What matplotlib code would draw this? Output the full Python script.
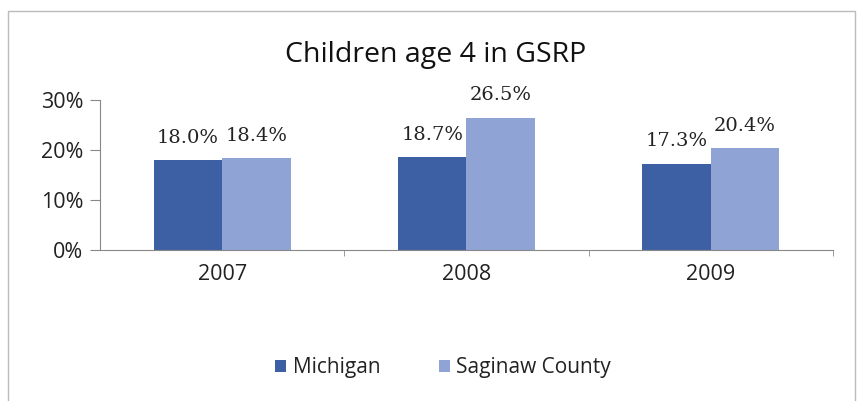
import matplotlib
matplotlib.use("Agg")
import matplotlib.pyplot as plt
from matplotlib.patches import Rectangle
import numpy as np

years = ["2007", "2008", "2009"]
michigan = [18.0, 18.7, 17.3]
saginaw = [18.4, 26.5, 20.4]
series_names = ["Michigan", "Saginaw County"]
yticks = [0, 10, 20, 30]

fig = plt.figure(figsize=(8.62, 4.01), dpi=100)
fig.patches.append(Rectangle((8 / 862, -0.05), 847 / 862, 1.05 - 11 / 401, transform=fig.transFigure,
                             fill=False, edgecolor="#bbbbbb", linewidth=1))
ax = fig.add_axes([100 / 862, 1 - 250 / 401, 733 / 862, 150 / 401])

x = np.arange(len(years))
w = 0.28
c1 = "#3D5FA3"
c2 = "#90A3D5"
b1 = ax.bar(x - w / 2, michigan, w, color=c1, label=series_names[0])
b2 = ax.bar(x + w / 2, saginaw, w, color=c2, label=series_names[1])
for bars, vals in ((b1, michigan), (b2, saginaw)):
    for b, v in zip(bars, vals):
        ax.text(b.get_x() + b.get_width() / 2, v + 2.6, f"{v:.1f}%", ha="center", va="bottom",
                fontsize=14, family="DejaVu Serif", color="#222222")

ax.set_xlim(-0.5, 2.5)
ax.set_ylim(0, 30)
ax.set_yticks(yticks)
ax.set_yticklabels([f"{t}%" for t in yticks], fontsize=15.5, family="Open Sans", color="#222222")
ax.set_xticks(x)
ax.set_xticklabels(years, fontsize=15.5, family="Open Sans", color="#222222")
ax.set_xticks([0.5, 1.5, 2.5], minor=True)
ax.tick_params(axis="x", which="major", length=0, pad=10)
ax.tick_params(axis="x", which="minor", length=4, color="#888888")
ax.tick_params(axis="y", length=7, color="#888888", pad=5)
for s in ["top", "right"]:
    ax.spines[s].set_visible(False)
ax.spines["left"].set_color("#888888")
ax.spines["bottom"].set_color("#888888")

fig.text(0.505, 1 - 55 / 401, "Children age 4 in GSRP", ha="center", va="center",
         fontsize=20.5, family="Open Sans", color="#111111")
fig.legend(handles=[b1, b2], loc="center", bbox_to_anchor=(443 / 862, 1 - 368 / 401), ncol=2,
           frameon=False, prop={"family": "Open Sans", "size": 15},
           handlelength=0.55, handleheight=0.55, handletextpad=0.3, columnspacing=2.8,
           labelcolor="#222222")

fig.savefig("out.png", dpi=100)
